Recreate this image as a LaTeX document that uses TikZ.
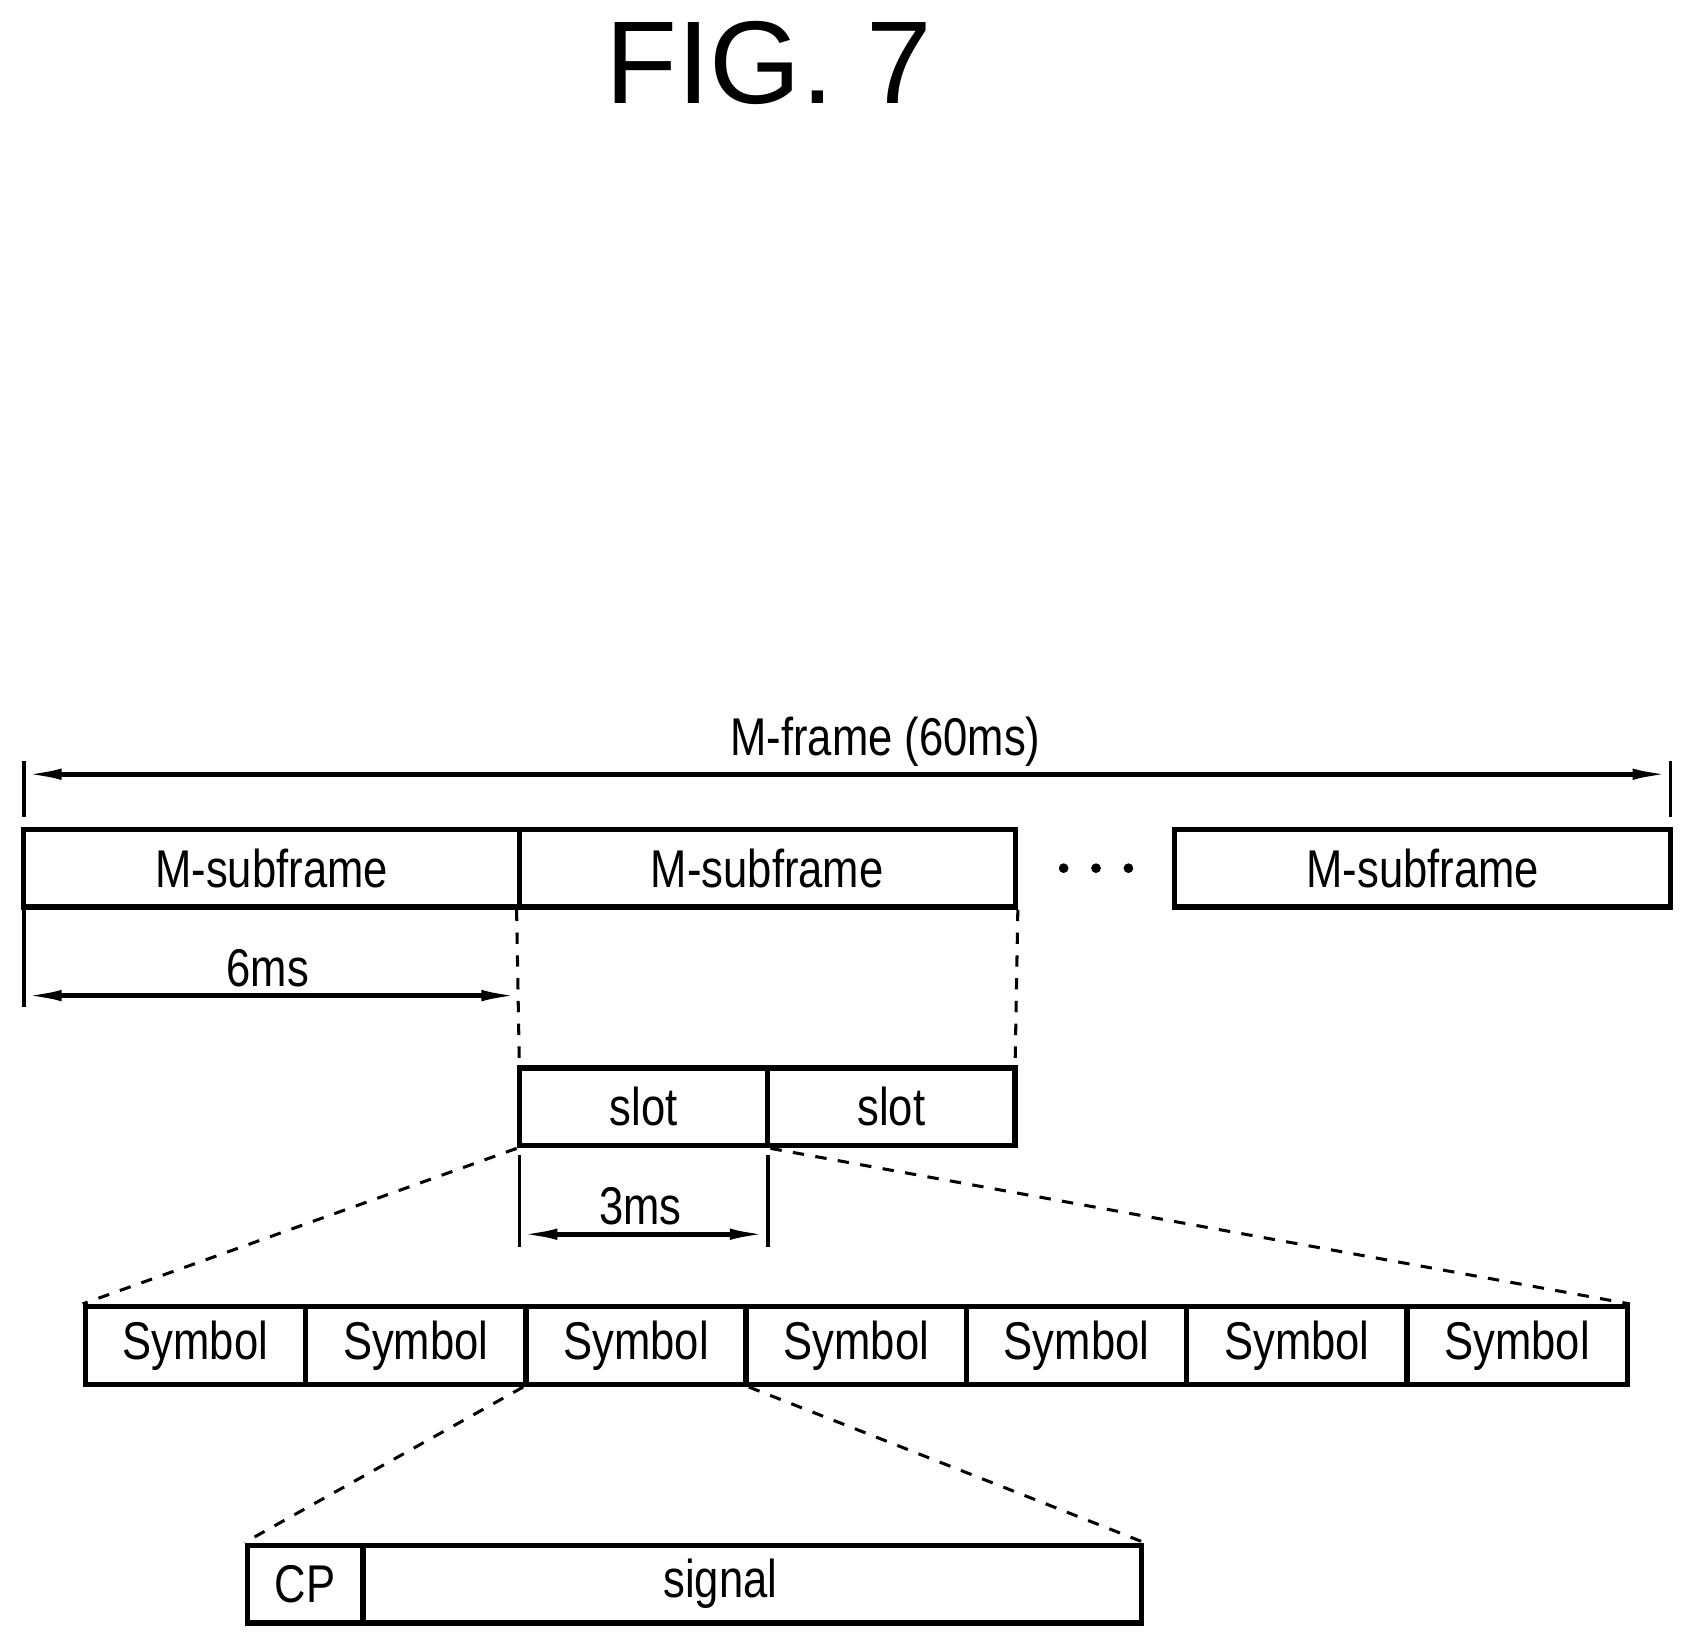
\documentclass[tikz,border=0pt]{standalone}
\usepackage{fontspec}
\setmainfont[FakeStretch=0.82]{Liberation Sans}
\newfontfamily\titlefont{Liberation Sans}
\usetikzlibrary{arrows.meta}
\tikzset{
  box/.style={draw, line width=1.4pt, minimum height=0.72cm, inner sep=0pt, font=\fontsize{14}{16}\selectfont},
  lbl/.style={font=\fontsize{14}{16}\selectfont},
  dim/.style={line width=1.2pt, {Latex[length=10pt,width=3pt]}-{Latex[length=10pt,width=3pt]}},
  tick/.style={line width=1pt},
  zoomline/.style={dashed, line width=0.8pt}
}
\begin{document}
\begin{tikzpicture}[x=0.01cm,y=-0.01cm]
\useasboundingbox (0,0) rectangle (1566,1521);
\node (title) at (712,58) {\titlefont\fontsize{31}{35}\selectfont FIG. 7};
% M-frame
\coordinate (fl) at (22,717);
\coordinate (fr) at (1547,717);
\draw[tick] (22,705) -- (22,757) (1547,705) -- (1547,757);
\draw[dim] (fl) -- (fr);
\node[lbl] (flabel) at (820,687) {M-frame (60ms)};
% subframes
\node[box, minimum width=4.59cm] (sf1) at (251.5,804) {M-subframe};
\node[box, minimum width=4.59cm] (sf2) at (710.5,804) {M-subframe};
\node[box, minimum width=4.59cm] (sf3) at (1317.5,804) {M-subframe};
\foreach \x in {985,1015,1045}
  \fill (\x,804) circle (4.5);
\draw[zoomline] (sf2.south west) -- (481,990);
\draw[zoomline] (sf2.south east) -- (940,990);
% 6ms
\draw[tick] (22,840) -- (22,933);
\coordinate (a6) at (22,922);
\coordinate (b6) at (481,922);
\draw[dim] (a6) -- (b6);
\node[lbl] (l6) at (248,897) {6ms};
% slots
\node[box, minimum width=2.30cm] (s1) at (596,1025) {slot};
\node[box, minimum width=2.29cm] (s2) at (825.5,1025) {slot};
\draw[tick] (481,1070) -- (481,1155) (711,1070) -- (711,1155);
\coordinate (a3) at (481,1143);
\coordinate (b3) at (711,1143);
\draw[dim] (a3) -- (b3);
\node[lbl] (l3) at (593,1117) {3ms};
% symbols
\foreach \i in {1,...,7}
  \node[box, minimum width=2.04cm] (sym\i) at ({79+204*(\i-0.5)},1246) {Symbol};
\draw[zoomline] (s1.south west) -- (sym1.north west);
\draw[zoomline] (s1.south east) -- (sym7.north east);
% CP + signal
\node[box, minimum width=1.07cm] (cp) at (282.5,1467) {CP};
\node[box, minimum width=7.21cm] (sig) at (696.5,1467) {};
\node[lbl] (siglabel) at (667,1467) {signal};
\draw[zoomline] (sym3.south west) -- (cp.north west);
\draw[zoomline] (sym3.south east) -- (sig.north east);
\end{tikzpicture}
\end{document}
